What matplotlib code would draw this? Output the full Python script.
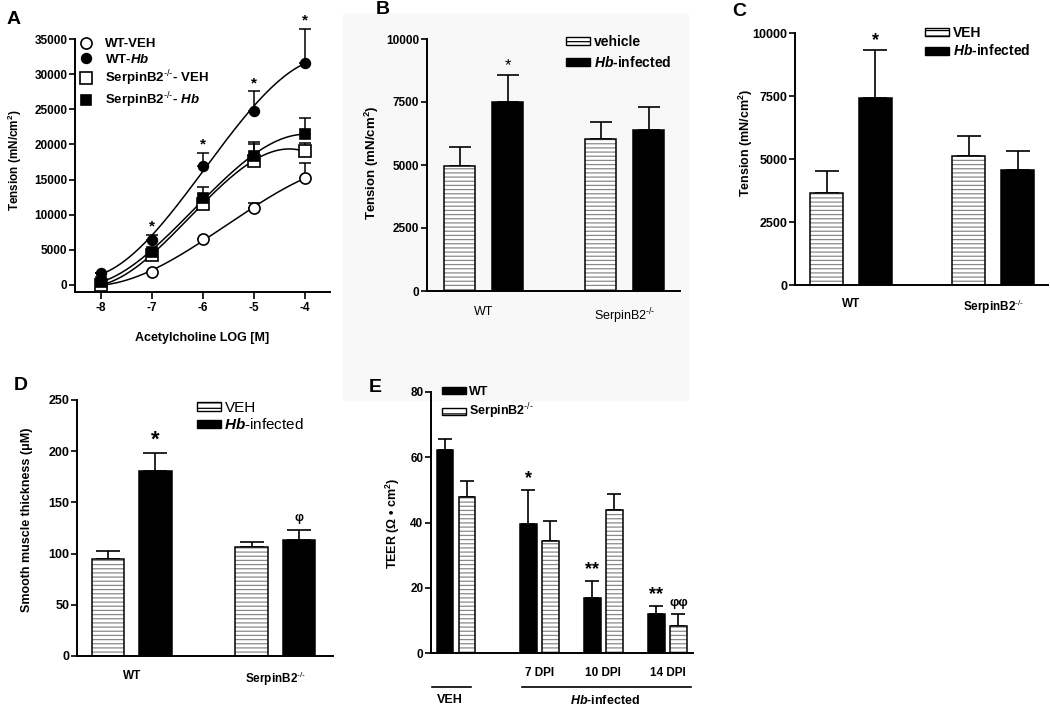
import numpy as np
import matplotlib
matplotlib.use("Agg")
import matplotlib.pyplot as plt
import matplotlib.patches as mpatches
import matplotlib.lines as mlines
import matplotlib.transforms as mtransforms

plt.rcParams.update({
    "font.family": "Liberation Sans",
    "mathtext.fontset": "custom",
    "mathtext.rm": "Liberation Sans",
    "mathtext.it": "Liberation Sans:italic",
    "mathtext.bf": "Liberation Sans:bold",
    "mathtext.bfit": "Liberation Sans:bold:italic",
    "hatch.linewidth": 0.9,
    "axes.linewidth": 1.4,
})

### Data

# A - dose response
log_ach = [-8, -7, -6, -5, -4]
wt_veh = [0, 1900, 6500, 10900, 15200]
wt_veh_err = [0, 0, 0, 800, 2150]
wt_hb = [1650, 6400, 17000, 24800, 31650]
wt_hb_err = [0, 700, 1750, 2750, 4750]
sb2_veh = [0, 4300, 11500, 17700, 19000]
sb2_veh_err = [0, 0, 500, 2400, 1200]
sb2_hb = [450, 4700, 12350, 18300, 21500]
sb2_hb_err = [0, 0, 1650, 2100, 2250]
a_stars = ["", "*", "*", "*", "*"]

# B, C, D - WT vs SerpinB2 groups
KO = "SerpinB2$^{\\text{-/-}}$"
groups = ["WT", KO]
b_veh = [4950, 6030]
b_veh_err = [750, 690]
b_hb = [7500, 6400]
b_hb_err = [1070, 900]
c_veh = [3660, 5125]
c_veh_err = [860, 780]
c_hb = [7420, 4560]
c_hb_err = [1890, 750]
d_veh = [94.5, 106.8]
d_veh_err = [8.5, 4.9]
d_hb = [180.7, 113.3]
d_hb_err = [17.9, 9.7]

# E - TEER
e_groups = ["VEH", "7 DPI", "10 DPI", "14 DPI"]
e_wt = [62.2, 39.4, 16.8, 12.0]
e_wt_err = [3.4, 10.5, 5.3, 2.5]
e_sb2 = [47.9, 34.4, 43.7, 8.4]
e_sb2_err = [4.8, 6.0, 5.1, 3.6]
e_wt_marks = ["", "*", "**", "**"]
e_sb2_marks = ["", "", "", "φφ"]

### Layout helpers

W, H = 1050, 706
fig = plt.figure(figsize=(W / 100, H / 100), dpi=100)
fig.patches.append(mpatches.Rectangle((343 / W, 1 - 400 / H), 345 / W, 386 / H,
                                      transform=fig.transFigure, color="#f8f8f8", zorder=-10))


def add_ax(l, t, r, b):
    ax = fig.add_axes([l / W, 1 - b / H, (r - l) / W, (b - t) / H])
    ax.set_facecolor("none")
    ax.spines["top"].set_visible(False)
    ax.spines["right"].set_visible(False)
    ax.tick_params(axis="y", length=4, width=1.2, pad=1.5)
    return ax


def ftext(x, y, s, **kw):
    fig.text(x / W, 1 - y / H, s, **kw)


def hatched(ax, x, h, w):
    ax.bar(x, h, w, color="white", edgecolor="#8a8a8a", hatch="----", lw=0, zorder=2)
    ax.bar(x, h, w, fill=False, edgecolor="black", lw=1.1, zorder=3)


def solid(ax, x, h, w):
    ax.bar(x, h, w, color="black", edgecolor="black", lw=1.1, zorder=3)


def errs(ax, x, h, e, cap, lw=1.2):
    ax.errorbar(x, h, yerr=[np.zeros(len(e)), e], fmt="none", ecolor="black",
                elinewidth=lw, capsize=cap, capthick=lw, zorder=1, clip_on=False)


def mark(ax, x, top, s, off, size, weight="bold"):
    if s:
        ax.annotate(s, (x, top), xytext=(0, off), textcoords="offset points",
                    ha="center", va="center", fontsize=size, fontweight=weight,
                    annotation_clip=False)


veh_handle = mpatches.Patch(facecolor="white", edgecolor="black", hatch="---", lw=1)
hb_handle = mpatches.Patch(facecolor="black", edgecolor="black", lw=1)
hb_label = "$\\mathbfit{Hb}$-infected"

### Panel A

axA = add_ax(75, 39, 330, 292)
axA.set_xlim(-8.5, -3.5)
axA.set_ylim(-1000, 35000)
xs = np.linspace(-8, -4, 200)
series = [
    (wt_veh, wt_veh_err, "o", "white"),
    (wt_hb, wt_hb_err, "o", "black"),
    (sb2_veh, sb2_veh_err, "s", "white"),
    (sb2_hb, sb2_hb_err, "s", "black"),
]
handles = []
for vals, e, m, fc in series:
    coef = np.polyfit(log_ach, vals, 3)
    axA.plot(xs, np.polyval(coef, xs), color="black", lw=1.1, zorder=2)
    errs(axA, log_ach, vals, e, 4.5, lw=1.1)
    ms = 8 if fc == "white" else 7
    axA.plot(log_ach, vals, ls="none", marker=m, ms=ms, mfc=fc, mec="black", mew=1.2,
             zorder=4, clip_on=False)
    handles.append(mlines.Line2D([], [], ls="none", marker=m, ms=ms, mfc=fc, mec="black", mew=1.2))
for x, v, e, s in zip(log_ach, wt_hb, wt_hb_err, a_stars):
    mark(axA, x, v + e, s, 6, 11)
axA.set_yticks(range(0, 35001, 5000), labels=[str(v) for v in range(0, 35001, 5000)],
               fontsize=8.5, fontweight="bold")
axA.set_xticks(log_ach, labels=[str(v) for v in log_ach], fontsize=8.5, fontweight="bold")
axA.tick_params(axis="x", length=5, width=1.2, pad=2)
axA.legend(handles, ["WT-VEH", "WT-$\\mathbfit{Hb}$",
                     KO + "- VEH", KO + "- $\\mathbfit{Hb}$"],
           loc="upper left", bbox_to_anchor=(79 / W, 1 - 38 / H), bbox_transform=fig.transFigure,
           frameon=False, prop={"weight": "bold", "size": 9.5}, handletextpad=1.0,
           labelspacing=0.2, borderpad=0, borderaxespad=0, handlelength=1.0)
ftext(15, 160, "Tension (mN/cm$^{\\mathbf{2}}$)", rotation=90, ha="center", va="center",
      fontsize=8.5, fontweight="bold")
ftext(202, 338, "Acetylcholine LOG [M]", ha="center", va="center", fontsize=9, fontweight="bold")
ftext(14, 20, "A", ha="center", va="center", fontsize=14, fontweight="bold")

### Panels B, C, D (two groups, vehicle vs infected)


def group_panel(box, xlim, off, w, veh, veh_e, hb, hb_e, ylim, ticks, tsize, cap,
                star, star_off, star_size, star_weight, xlab_pad, xlab_weight, xlab_size):
    ax = add_ax(*box)
    g = np.arange(len(groups))
    hatched(ax, g - off, veh, w)
    solid(ax, g + off, hb, w)
    errs(ax, g - off, veh, veh_e, cap)
    errs(ax, g + off, hb, hb_e, cap)
    mark(ax, g[0] + off, hb[0] + hb_e[0], star, star_off, star_size, star_weight)
    ax.set_xlim(*xlim)
    ax.set_ylim(*ylim)
    ax.set_yticks(ticks, labels=[str(t) for t in ticks], fontsize=tsize, fontweight="bold")
    ax.set_xticks(g, labels=groups, fontsize=xlab_size, fontweight=xlab_weight)
    ax.tick_params(axis="x", length=0, pad=xlab_pad)
    return ax


axB = group_panel((427, 39, 680, 291), (-0.40, 1.39), 0.17, 0.22, b_veh, b_veh_err, b_hb, b_hb_err,
                  (0, 10000), [0, 2500, 5000, 7500, 10000], 8.5, 8,
                  "*", 7, 12, "normal", 11, "normal", 9)
axB.legend([veh_handle, hb_handle], ["vehicle", hb_label], loc="upper left",
           bbox_to_anchor=(566 / W, 1 - 35 / H), bbox_transform=fig.transFigure, frameon=False,
           prop={"weight": "bold", "size": 10}, handlelength=1.7, handleheight=0.5,
           handletextpad=0.3, labelspacing=0.45, borderpad=0, borderaxespad=0)
ftext(372, 163, "Tension (mN/cm$^{\\mathbf{2}}$)", rotation=90, ha="center", va="center",
      fontsize=9.5, fontweight="bold")
ftext(383, 9, "B", ha="center", va="center", fontsize=14, fontweight="bold")

axC = group_panel((795, 33, 1048, 285), (-0.394, 1.385), 0.172, 0.232, c_veh, c_veh_err, c_hb, c_hb_err,
                  (0, 10000), [0, 2500, 5000, 7500, 10000], 9, 8.5,
                  "*", 7, 13, "bold", 9, "bold", 8.5)
axC.legend([veh_handle, hb_handle], ["VEH", hb_label], loc="upper left",
           bbox_to_anchor=(925 / W, 1 - 26 / H), bbox_transform=fig.transFigure, frameon=False,
           prop={"weight": "bold", "size": 10}, handlelength=1.7, handleheight=0.5,
           handletextpad=0.3, labelspacing=0.25, borderpad=0, borderaxespad=0)
ftext(746, 143, "Tension (mN/cm$^{\\mathbf{2}}$)", rotation=90, ha="center", va="center",
      fontsize=9, fontweight="bold")
ftext(739, 12, "C", ha="center", va="center", fontsize=14, fontweight="bold")

axD = group_panel((77, 400, 333, 656), (-0.38, 1.40), 0.165, 0.226, d_veh, d_veh_err, d_hb, d_hb_err,
                  (0, 250), [0, 50, 100, 150, 200, 250], 9, 8.5,
                  "*", 9, 16, "bold", 10, "bold", 8.5)
mark(axD, 1 + 0.165, d_hb[1] + d_hb_err[1], "φ", 9, 9)
axD.legend([veh_handle, hb_handle], ["VEH", hb_label], loc="upper left",
           bbox_to_anchor=(197 / W, 1 - 401 / H), bbox_transform=fig.transFigure, frameon=False,
           prop={"weight": "normal", "size": 11}, handlelength=1.55, handleheight=0.5,
           handletextpad=0.25, labelspacing=0.15, borderpad=0, borderaxespad=0)
ftext(27, 520, "Smooth muscle thickness (μM)", rotation=90, ha="center", va="center",
      fontsize=9, fontweight="bold")
ftext(21, 386, "D", ha="center", va="center", fontsize=14, fontweight="bold")

### Panel E

axE = add_ax(431, 392, 693, 653)
eg = np.array([0, 1.3, 2.3, 3.3])
ew, eo = 0.26, 0.172
solid(axE, eg - eo, e_wt, ew)
hatched(axE, eg + eo, e_sb2, ew)
errs(axE, eg - eo, e_wt, e_wt_err, 5)
errs(axE, eg + eo, e_sb2, e_sb2_err, 5)
for x, v, e, s in zip(eg - eo, e_wt, e_wt_err, e_wt_marks):
    mark(axE, x, v + e, s, 8, 13)
for x, v, e, s in zip(eg + eo, e_sb2, e_sb2_err, e_sb2_marks):
    mark(axE, x, v + e, s, 8, 9.5)
axE.set_xlim(-0.39, 3.70)
axE.set_ylim(0, 80)
axE.set_yticks([0, 20, 40, 60, 80], labels=["0", "20", "40", "60", "80"], fontsize=8.5, fontweight="bold")
axE.set_xticks(eg[1:], labels=e_groups[1:], fontsize=8.5, fontweight="bold")
axE.tick_params(axis="x", length=0, pad=10)
tr = mtransforms.blended_transform_factory(axE.transData, axE.transAxes)
ybr = -(687 - 653) / (653 - 392)
axE.plot([eg[0] - 0.37, eg[0] + 0.24], [ybr, ybr], color="black", lw=1.2, transform=tr, clip_on=False)
axE.plot([eg[1] - 0.27, eg[3] + 0.37], [ybr, ybr], color="black", lw=1.2, transform=tr, clip_on=False)
ftext(450, 700, "VEH", ha="center", va="center", fontsize=9, fontweight="bold")
ftext(605, 700, hb_label, ha="center", va="center", fontsize=9, fontweight="bold")
axE.legend([hb_handle, veh_handle], ["WT", KO], loc="upper left",
           bbox_to_anchor=(442 / W, 1 - 386 / H), bbox_transform=fig.transFigure, frameon=False,
           prop={"weight": "bold", "size": 9}, handlelength=1.9, handleheight=0.5,
           handletextpad=0.25, labelspacing=0.3, borderpad=0, borderaxespad=0)
ftext(393, 523, "TEER (Ω • cm$^{\\mathbf{2}}$)", rotation=90, ha="center", va="center",
      fontsize=9, fontweight="bold")
ftext(375, 387, "E", ha="center", va="center", fontsize=14, fontweight="bold")

fig.savefig("out.png", dpi=100)
